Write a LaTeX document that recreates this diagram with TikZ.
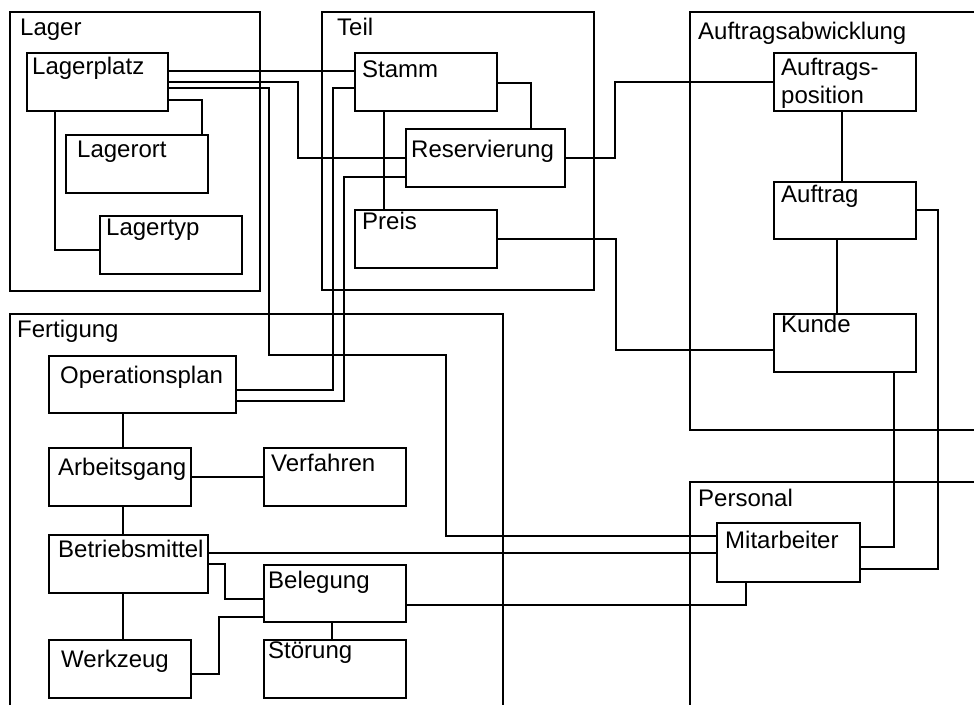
\documentclass[tikz,border=0pt]{standalone}
\usepackage{fontspec}
\setmainfont{Liberation Sans}
\begin{document}
\begin{tikzpicture}[x=1pt,y=-1pt,
  box/.style={draw, line width=2pt, outer sep=0pt, inner sep=0pt, anchor=north west},
  frame/.style={draw, line width=2pt},
  conn/.style={draw, line width=1.7pt},
  txt/.style={anchor=base west, inner sep=0pt, font=\fontsize{24}{28}\selectfont}]
\useasboundingbox (0,0) rectangle (974,705);
% frames
\draw[frame] (10,12) rectangle (260,291);
\draw[frame] (322,12) rectangle (594,290);
\draw[frame] (974,12) -- (690,12) -- (690,430) -- (974,430);
\draw[frame] (10,705) -- (10,314) -- (503,314) -- (503,705);
\draw[frame] (974,482) -- (690,482) -- (690,705);
\node[txt] (tlager) at (20,35) {Lager};
\node[txt] (tteil) at (337,35) {Teil};
\node[txt] (tauftr) at (698,39) {Auftragsabwicklung};
\node[txt] (tfert) at (17,337) {Fertigung};
\node[txt] (tpers) at (698,506) {Personal};
% boxes
\node[box, minimum width=141, minimum height=58] (lagerplatz) at (27,53) {};
\node[box, minimum width=142, minimum height=58] (lagerort) at (66,135) {};
\node[box, minimum width=142, minimum height=58] (lagertyp) at (100,216) {};
\node[box, minimum width=142, minimum height=58] (stamm) at (355,53) {};
\node[box, minimum width=159, minimum height=58] (reserv) at (406,129) {};
\node[box, minimum width=142, minimum height=58] (preis) at (355,210) {};
\node[box, minimum width=142, minimum height=58] (apos) at (774,53) {};
\node[box, minimum width=142, minimum height=57] (auftrag) at (774,182) {};
\node[box, minimum width=142, minimum height=58] (kunde) at (774,314) {};
\node[box, minimum width=187, minimum height=57] (opplan) at (49,356) {};
\node[box, minimum width=142, minimum height=58] (arbg) at (49,448) {};
\node[box, minimum width=142, minimum height=58] (verf) at (264,448) {};
\node[box, minimum width=159, minimum height=58] (betr) at (49,535) {};
\node[box, minimum width=142, minimum height=57] (beleg) at (264,565) {};
\node[box, minimum width=142, minimum height=58] (werkz) at (49,640) {};
\node[box, minimum width=142, minimum height=58] (stoer) at (264,640) {};
\node[box, minimum width=143, minimum height=59] (mitarb) at (717,523) {};
% box texts
\node[txt] (tlagerplatz) at (32,74) {Lagerplatz};
\node[txt] (tlagerort) at (77,157) {Lagerort};
\node[txt] (tlagertyp) at (106,235) {Lagertyp};
\node[txt] (tstamm) at (362,77) {Stamm};
\node[txt] (treserv) at (411,157) {Reservierung};
\node[txt] (tpreis) at (362,229) {Preis};
\node[txt, align=left] (tapos) at (781,103) {Auftrags-\\position};
\node[txt] (tauftrag) at (781,202) {Auftrag};
\node[txt] (tkunde) at (781,332) {Kunde};
\node[txt] (topplan) at (60,383) {Operationsplan};
\node[txt] (tarbg) at (58,475) {Arbeitsgang};
\node[txt] (tverf) at (271,471) {Verfahren};
\node[txt] (tbetr) at (58,557) {Betriebsmittel};
\node[txt] (tbeleg) at (268,588) {Belegung};
\node[txt] (twerkz) at (61,667) {Werkzeug};
\node[txt] (tstoer) at (268,658) {Störung};
\node[txt] (tmitarb) at (725,548) {Mitarbeiter};
% connectors
\draw[conn] (lagerplatz.east |- 0,100) -| (lagerort.north -| 202,0);
\draw[conn] (lagerplatz.south -| 55,0) |- (lagertyp.west |- 0,250);
\draw[conn] (lagerplatz.east |- 0,71) -- (stamm.west |- 0,71);
\draw[conn] (lagerplatz.east |- 0,82) -| (298,158) -- (reserv.west |- 0,158);
\draw[conn] (lagerplatz.east |- 0,88) -| (269,355) -| (446,536) -- (mitarb.west |- 0,536);
\draw[conn] (stamm.east |- 0,83) -| (reserv.north -| 531,0);
\draw[conn] (stamm.south -| 384,0) -- (preis.north -| 384,0);
\draw[conn] (stamm.west |- 0,88) -| (333,390) -- (opplan.east |- 0,390);
\draw[conn] (reserv.west |- 0,177) -| (344,401) -- (opplan.east |- 0,401);
\draw[conn] (reserv.east |- 0,158) -| (615,82) -- (apos.west |- 0,82);
\draw[conn] (preis.east |- 0,239) -| (616,350) -- (kunde.west |- 0,350);
\draw[conn] (apos.south -| 842,0) -- (auftrag.north -| 842,0);
\draw[conn] (auftrag.south -| 837,0) -- (kunde.north -| 837,0);
\draw[conn] (auftrag.east |- 0,210) -| (938,569) -- (mitarb.east |- 0,569);
\draw[conn] (kunde.south -| 894,0) |- (mitarb.east |- 0,547);
\draw[conn] (opplan.south -| 123,0) -- (arbg.north -| 123,0);
\draw[conn] (arbg.east |- 0,477) -- (verf.west |- 0,477);
\draw[conn] (arbg.south -| 123,0) -- (betr.north -| 123,0);
\draw[conn] (betr.south -| 123,0) -- (werkz.north -| 123,0);
\draw[conn] (betr.east |- 0,564) -| (225,599) -- (beleg.west |- 0,599);
\draw[conn] (werkz.east |- 0,674) -| (219,617) -- (beleg.west |- 0,617);
\draw[conn] (beleg.south -| 332,0) -- (stoer.north -| 332,0);
\draw[conn] (betr.east |- 0,553) -- (mitarb.west |- 0,553);
\draw[conn] (beleg.east |- 0,605) -| (mitarb.south -| 746,0);
\end{tikzpicture}
\end{document}
